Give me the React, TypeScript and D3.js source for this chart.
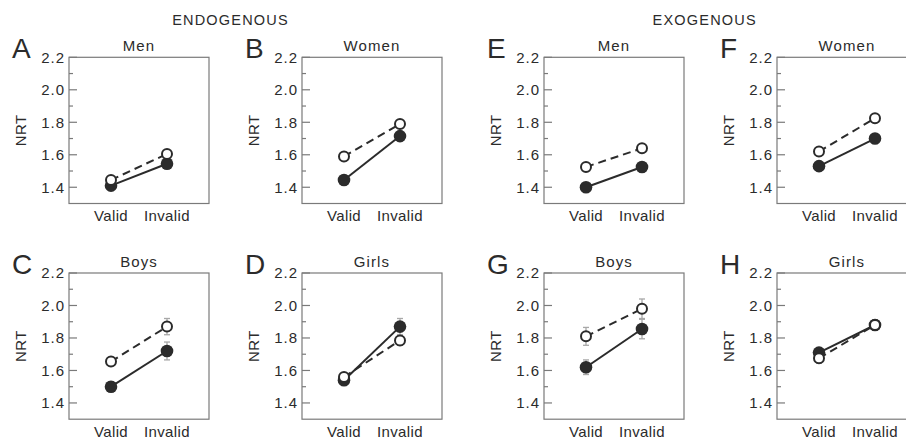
import React, { useRef, useEffect } from "react";
import * as d3 from "d3";

// cue conditions on the x axis
const conditions = ["Valid", "Invalid"];

// panels in reading order A..H
const panelLetters = ["A", "B", "C", "D", "E", "F", "G", "H"];
const panelTitles = ["Men", "Women", "Boys", "Girls", "Men", "Women", "Boys", "Girls"];
const groupTitles = ["ENDOGENOUS", "EXOGENOUS"];

// filled markers / solid line  [Valid, Invalid]
const solidValues = [
  [1.41, 1.545],
  [1.445, 1.715],
  [1.5, 1.72],
  [1.54, 1.87],
  [1.4, 1.525],
  [1.53, 1.7],
  [1.62, 1.855],
  [1.71, 1.88],
];
const solidErrors = [
  [0.015, 0.02],
  [0.02, 0.02],
  [0.03, 0.055],
  [0.02, 0.05],
  [0.015, 0.02],
  [0.02, 0.02],
  [0.045, 0.06],
  [0.03, 0.03],
];

// open markers / dashed line  [Valid, Invalid]
const openValues = [
  [1.445, 1.605],
  [1.59, 1.79],
  [1.655, 1.87],
  [1.56, 1.785],
  [1.525, 1.64],
  [1.62, 1.825],
  [1.81, 1.98],
  [1.675, 1.88],
];
const openErrors = [
  [0.015, 0.02],
  [0.02, 0.02],
  [0.02, 0.05],
  [0.02, 0.03],
  [0.015, 0.02],
  [0.02, 0.02],
  [0.055, 0.06],
  [0.03, 0.03],
];

const yMajorTicks = [1.4, 1.6, 1.8, 2.0, 2.2];
const yMinorTicks = [1.5, 1.7, 1.9, 2.1];
const yDomain = [1.3, 2.2];

const W = 906;
const H = 442;
const boxW = 140;
const boxH = 146.2;
const colLeft = [69, 302, 544, 777];
const rowTop = [57.3, 273];
const panelCol = [0, 1, 0, 1, 2, 3, 2, 3];
const panelRow = [0, 0, 1, 1, 0, 0, 1, 1];
const headerX = [230.5, 704.7];

const FONT = "'Liberation Sans', Arial, Helvetica, sans-serif";
const INK = "#2b2b2b";

const App = () => {
  const canvas = useRef<SVGSVGElement>(null);

  const x = d3.scalePoint<string>().domain(conditions).range([0, boxW]).padding(0.75);
  const y = d3.scaleLinear().domain(yDomain).range([boxH, 0]);

  const drawChart = () => {
    const svg = d3.select(canvas.current);
    svg.selectAll("*").remove();

    svg.append("rect").attr("width", W).attr("height", H).attr("fill", "#fff");

    svg.selectAll("text.group")
      .data(groupTitles)
      .enter()
      .append("text")
      .attr("class", "group")
      .attr("x", (d, i) => headerX[i])
      .attr("y", 25)
      .attr("text-anchor", "middle")
      .attr("font-family", FONT)
      .attr("font-size", 14.5)
      .attr("letter-spacing", 1.2)
      .attr("fill", INK)
      .text(d => d);

    panelLetters.forEach((letter, p) => {
      const left = colLeft[panelCol[p]];
      const top = rowTop[panelRow[p]];
      const g = svg.append("g").attr("transform", `translate(${left},${top})`);

      // panel letter
      g.append("text")
        .attr("x", -57)
        .attr("y", 0.5)
        .attr("font-family", FONT)
        .attr("font-size", 28)
        .attr("fill", INK)
        .text(letter);

      // panel title
      g.append("text")
        .attr("x", boxW / 2)
        .attr("y", -6)
        .attr("text-anchor", "middle")
        .attr("font-family", FONT)
        .attr("font-size", 15)
        .attr("letter-spacing", 1.1)
        .attr("fill", INK)
        .text(panelTitles[p]);

      // y axis label
      g.append("text")
        .attr("transform", `translate(-43.5,${boxH / 2}) rotate(-90)`)
        .attr("text-anchor", "middle")
        .attr("font-family", FONT)
        .attr("font-size", 15)
        .attr("letter-spacing", 0.4)
        .attr("fill", INK)
        .text("NRT");

      // frame
      g.append("rect")
        .attr("width", boxW)
        .attr("height", boxH)
        .attr("fill", "none")
        .attr("stroke", "#7a7a7a")
        .attr("stroke-width", 1.2);

      // ticks (inward)
      g.selectAll("line.major")
        .data(yMajorTicks)
        .enter()
        .append("line")
        .attr("x1", 0)
        .attr("x2", 8)
        .attr("y1", d => y(d))
        .attr("y2", d => y(d))
        .attr("stroke", "#7a7a7a")
        .attr("stroke-width", 1.2);
      g.selectAll("line.minor")
        .data(yMinorTicks)
        .enter()
        .append("line")
        .attr("x1", 0)
        .attr("x2", 4)
        .attr("y1", d => y(d))
        .attr("y2", d => y(d))
        .attr("stroke", "#7a7a7a")
        .attr("stroke-width", 1.2);
      g.selectAll("text.tick")
        .data(yMajorTicks)
        .enter()
        .append("text")
        .attr("x", -4)
        .attr("y", d => y(d))
        .attr("dy", "0.36em")
        .attr("text-anchor", "end")
        .attr("font-family", FONT)
        .attr("font-size", 15)
        .attr("letter-spacing", 1)
        .attr("fill", INK)
        .text(d => d3.format(".1f")(d));

      // x labels
      g.selectAll("text.xl")
        .data(conditions)
        .enter()
        .append("text")
        .attr("x", d => x(d) as number)
        .attr("y", boxH + 17.5)
        .attr("text-anchor", "middle")
        .attr("font-family", FONT)
        .attr("font-size", 15)
        .attr("letter-spacing", 0.4)
        .attr("fill", INK)
        .text(d => d);

      const solid = conditions.map((c, i) => ({ c, v: solidValues[p][i], e: solidErrors[p][i] }));
      const open = conditions.map((c, i) => ({ c, v: openValues[p][i], e: openErrors[p][i] }));

      const line = d3.line<{ c: string; v: number }>()
        .x(d => x(d.c) as number)
        .y(d => y(d.v));

      // error bars
      [...solid, ...open].forEach(d => {
        const cx = x(d.c) as number;
        const eg = g.append("g").attr("stroke", "#a8a8a8").attr("stroke-width", 1.3);
        eg.append("line").attr("x1", cx).attr("x2", cx).attr("y1", y(d.v - d.e)).attr("y2", y(d.v + d.e));
        eg.append("line").attr("x1", cx - 3).attr("x2", cx + 3).attr("y1", y(d.v - d.e)).attr("y2", y(d.v - d.e));
        eg.append("line").attr("x1", cx - 3).attr("x2", cx + 3).attr("y1", y(d.v + d.e)).attr("y2", y(d.v + d.e));
      });

      g.append("path")
        .attr("d", line(solid) as string)
        .attr("fill", "none")
        .attr("stroke", INK)
        .attr("stroke-width", 2);
      g.append("path")
        .attr("d", line(open) as string)
        .attr("fill", "none")
        .attr("stroke", INK)
        .attr("stroke-width", 2)
        .attr("stroke-dasharray", "8,5");

      g.selectAll("circle.filled")
        .data(solid)
        .enter()
        .append("circle")
        .attr("cx", d => x(d.c) as number)
        .attr("cy", d => y(d.v))
        .attr("r", 6.3)
        .attr("fill", INK);
      g.selectAll("circle.open")
        .data(open)
        .enter()
        .append("circle")
        .attr("cx", d => x(d.c) as number)
        .attr("cy", d => y(d.v))
        .attr("r", 5)
        .attr("fill", "#fff")
        .attr("stroke", INK)
        .attr("stroke-width", 2);
    });
  };

  useEffect(() => {
    drawChart();
  });

  return (
    <svg
      ref={canvas}
      width={W}
      height={H}
      style={{ position: "absolute", left: 0, top: 0, overflow: "hidden" }}
    />
  );
};

export default App;
